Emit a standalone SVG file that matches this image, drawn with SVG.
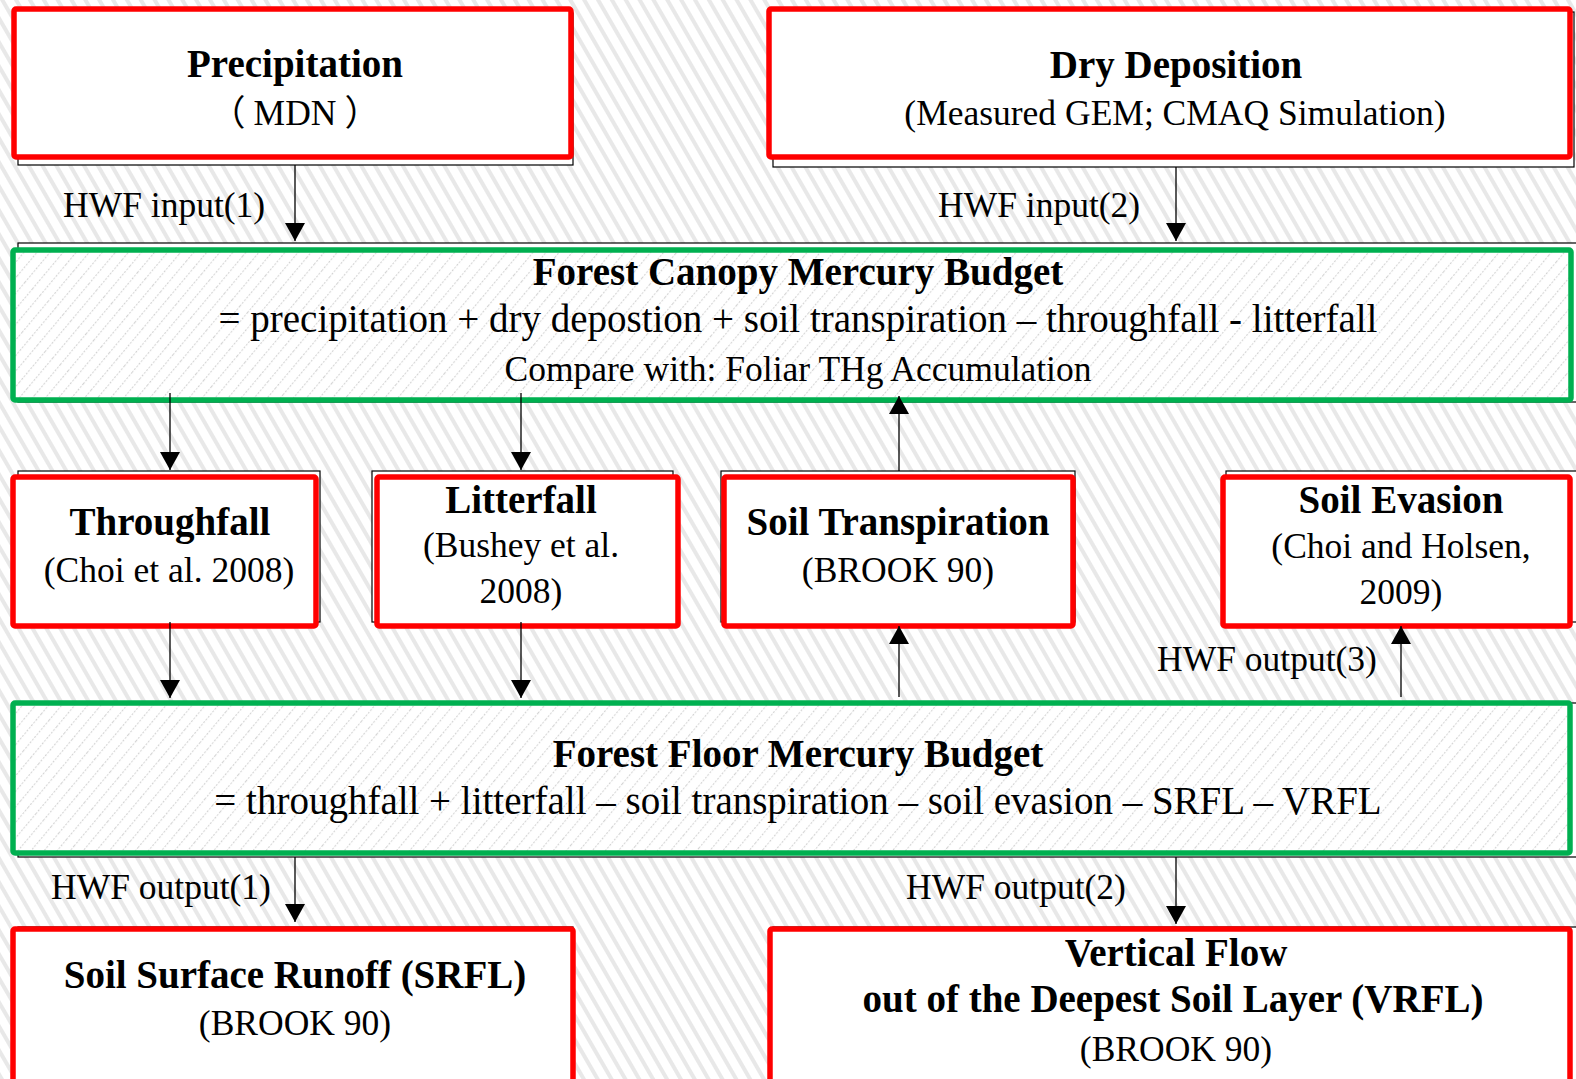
<svg xmlns="http://www.w3.org/2000/svg" width="1576" height="1079" viewBox="0 0 1576 1079">
<defs>
<pattern id="bg" width="12" height="40" patternUnits="userSpaceOnUse" patternTransform="rotate(-30)">
<rect width="12" height="40" fill="#ffffff"/>
<rect x="0" y="0" width="4" height="40" fill="#e8e8e8"/>
</pattern>
<pattern id="hatch" width="10" height="40" patternUnits="userSpaceOnUse" patternTransform="rotate(40)">
<rect width="10" height="40" fill="#ffffff"/>
<line x1="0.5" y1="0" x2="0.5" y2="40" stroke="#d4d4d4" stroke-width="1.2" stroke-dasharray="2 1.5"/>
</pattern>
<marker id="ah" markerWidth="20" markerHeight="20" viewBox="0 0 20 20" refX="18" refY="10" orient="auto" markerUnits="userSpaceOnUse">
<path d="M0,0 L18,10 L0,20 Z" fill="#000"/>
</marker>
</defs>
<style>
.shadow{fill:#fff;stroke:#000;stroke-width:1.2}
.red{fill:#fff;stroke:#ff0000;stroke-width:5.5}
.green{fill:url(#hatch);stroke:#00b050;stroke-width:5.5}
.b{font-family:"Liberation Serif","Times New Roman",serif;font-weight:bold;font-size:39px;text-anchor:middle;fill:#000}
.r{font-family:"Liberation Serif","Times New Roman",serif;font-size:35.5px;text-anchor:middle;fill:#000}
.f{font-family:"Liberation Serif","Times New Roman",serif;font-size:39px;text-anchor:middle;fill:#000}
.l{font-family:"Liberation Serif","Times New Roman",serif;font-size:35.5px;fill:#000}
.cjk{font-family:"Noto Sans CJK SC","Noto Sans CJK JP",sans-serif;font-weight:normal}
.c{stroke:#000;stroke-width:1.3;fill:none;marker-end:url(#ah)}
</style>
<rect width="1576" height="1079" fill="url(#bg)"/>

<g id="precipitation">
<rect class="shadow" x="18" y="13" width="555" height="152"/>
<rect class="red" x="14" y="9" width="557" height="148" rx="2"/>
<text class="b" x="295" y="77">Precipitation</text>
<text class="r" x="295" y="125"><tspan class="cjk">（</tspan><tspan dx="8">MDN</tspan><tspan class="cjk" dx="8">）</tspan></text>
</g>

<g id="dry-deposition">
<rect class="shadow" x="773" y="12" width="801" height="155"/>
<rect class="red" x="769" y="9" width="801" height="148" rx="2"/>
<text class="b" x="1176" y="78">Dry Deposition</text>
<text class="r" x="1175" y="125">(Measured GEM; CMAQ Simulation)</text>
</g>

<g id="canopy-budget">
<rect class="shadow" x="18" y="243" width="1562" height="159"/>
<rect class="green" x="13" y="250" width="1558" height="150" rx="2"/>
<text class="b" x="798" y="285">Forest Canopy Mercury Budget</text>
<text class="f" x="798" y="332">= precipitation + dry depostion + soil transpiration – throughfall - litterfall</text>
<text class="r" x="798" y="381">Compare with: Foliar THg Accumulation</text>
</g>

<g id="throughfall">
<rect class="shadow" x="18" y="471" width="302" height="151"/>
<rect class="red" x="13" y="477" width="303" height="149" rx="2"/>
<text class="b" x="170" y="535">Throughfall</text>
<text class="r" x="169" y="582">(Choi et al. 2008)</text>
</g>

<g id="litterfall">
<rect class="shadow" x="372" y="471" width="301" height="151"/>
<rect class="red" x="377" y="477" width="301" height="149" rx="2"/>
<text class="b" x="521" y="513">Litterfall</text>
<text class="r" x="521" y="557">(Bushey et al.</text>
<text class="r" x="521" y="603">2008)</text>
</g>

<g id="soil-transpiration">
<rect class="shadow" x="721" y="471" width="354" height="151"/>
<rect class="red" x="724" y="477" width="349" height="149" rx="2"/>
<text class="b" x="898" y="535">Soil Transpiration</text>
<text class="r" x="898" y="582">(BROOK 90)</text>
</g>

<g id="soil-evasion">
<rect class="shadow" x="1226" y="471" width="360" height="151"/>
<rect class="red" x="1223" y="477" width="347" height="149" rx="2"/>
<text class="b" x="1401" y="513">Soil Evasion</text>
<text class="r" x="1401" y="558">(Choi and Holsen,</text>
<text class="r" x="1401" y="604">2009)</text>
</g>

<g id="floor-budget">
<rect class="shadow" x="18" y="703" width="1562" height="154"/>
<rect class="green" x="13" y="703" width="1557" height="150" rx="2"/>
<text class="b" x="798" y="767">Forest Floor Mercury Budget</text>
<text class="f" x="798" y="814">= throughfall + litterfall – soil transpiration – soil evasion – SRFL – VRFL</text>
</g>

<g id="srfl">
<rect class="shadow" x="18" y="927" width="555" height="200"/>
<rect class="red" x="13" y="929" width="560" height="200" rx="2"/>
<text class="b" x="295" y="988">Soil Surface Runoff (SRFL)</text>
<text class="r" x="295" y="1035">(BROOK 90)</text>
</g>

<g id="vrfl">
<rect class="shadow" x="773" y="927" width="810" height="200"/>
<rect class="red" x="770" y="929" width="800" height="200" rx="2"/>
<text class="b" x="1176" y="966">Vertical Flow</text>
<text class="b" x="1173" y="1012">out of the Deepest Soil Layer (VRFL)</text>
<text class="r" x="1176" y="1061">(BROOK 90)</text>
</g>

<g id="connectors">
<line class="c" x1="295" y1="165" x2="295" y2="241"/>
<line class="c" x1="1176" y1="167" x2="1176" y2="241"/>
<line class="c" x1="170" y1="393" x2="170" y2="470"/>
<line class="c" x1="521" y1="393" x2="521" y2="470"/>
<line class="c" x1="899" y1="471" x2="899" y2="396"/>
<line class="c" x1="170" y1="622" x2="170" y2="698"/>
<line class="c" x1="521" y1="622" x2="521" y2="698"/>
<line class="c" x1="899" y1="697" x2="899" y2="626"/>
<line class="c" x1="1401" y1="697" x2="1401" y2="626"/>
<line class="c" x1="295" y1="857" x2="295" y2="922"/>
<line class="c" x1="1176" y1="857" x2="1176" y2="924"/>
<text class="l" x="63" y="217">HWF input(1)</text>
<text class="l" x="938" y="217">HWF input(2)</text>
<text class="l" x="1157" y="671">HWF output(3)</text>
<text class="l" x="51" y="899">HWF output(1)</text>
<text class="l" x="906" y="899">HWF output(2)</text>
</g>
</svg>
